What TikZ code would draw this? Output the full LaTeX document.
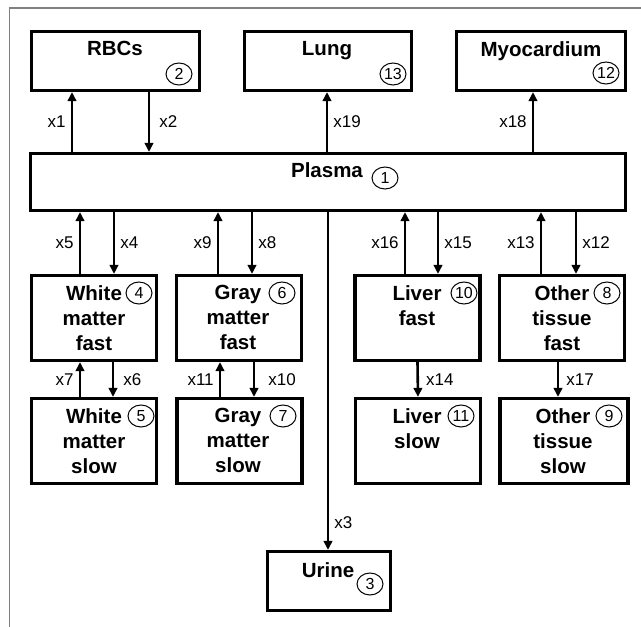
\documentclass[tikz,border=0pt]{standalone}
\usepackage{fontspec}
\setmainfont{Liberation Sans}
\usetikzlibrary{arrows.meta,shapes.geometric}
\begin{document}
\begin{tikzpicture}[x=1pt, y=-1pt,
  box/.style={draw, line width=3.2pt, inner sep=0pt, minimum width=125pt, minimum height=85pt},
  boxtxt/.style={font=\fontsize{20.5}{25}\selectfont\bfseries, align=center, anchor=north, inner sep=0pt},
  num/.style={draw, ellipse, line width=1pt, inner sep=0pt, minimum width=26pt, minimum height=22pt, font=\fontsize{16}{16}\selectfont},
  flow/.style={line width=2.6pt, -{Triangle[length=9pt, width=8.5pt]}},
  ratelbl/.style={font=\fontsize{17}{17}\selectfont, inner sep=5pt}
]
\useasboundingbox (0,0) rectangle (641,627);
% Rahmen
\draw[gray, line width=1.2pt] (9.5,627) -- (9.5,8) -- (641,8);

% Kompartimente
\node[box, minimum width=168pt, minimum height=59pt] (rbc) at (115.5,61) {};
\node[box, minimum width=167pt, minimum height=59pt] (lung) at (328,61) {};
\node[box, minimum width=169pt, minimum height=59pt] (myo) at (541,61) {};
\node[box, minimum width=595pt, minimum height=57pt] (plasma) at (328,182) {};
\node[box] (wmf) at (94,318) {};
\node[box] (gmf) at (239,318) {};
\node[box] (lvf) at (417.5,318) {};
\node[box] (otf) at (562,318) {};
\node[box] (wms) at (94,441) {};
\node[box] (gms) at (239.5,441) {};
\node[box] (lvs) at (418,441) {};
\node[box, minimum width=128pt] (ots) at (564,441) {};
\node[box, minimum width=123pt, minimum height=59pt] (urine) at (329,581) {};

% Beschriftungen
\node[boxtxt] (rbc-t) at (115,41) {RBCs};
\node[boxtxt] (lung-t) at (327,41) {Lung};
\node[boxtxt] (myo-t) at (541,41) {Myocardium};
\node[boxtxt] (plasma-t) at (327,162) {Plasma};
\node[boxtxt] (wmf-t) at (94,285) {White\\matter\\fast};
\node[boxtxt] (gmf-t) at (238,285) {Gray\\matter\\fast};
\node[boxtxt] (lvf-t) at (417,285) {Liver\\fast};
\node[boxtxt] (otf-t) at (562,285) {Other\\tissue\\fast};
\node[boxtxt] (wms-t) at (94,408) {White\\matter\\slow};
\node[boxtxt] (gms-t) at (238,408) {Gray\\matter\\slow};
\node[boxtxt] (lvs-t) at (417,408) {Liver\\slow};
\node[boxtxt] (ots-t) at (563,408) {Other\\tissue\\slow};
\node[boxtxt] (urine-t) at (328,562) {Urine};

% Nummern
\node[num] (n1) at (385,178) {1};
\node[num] (n2) at (179,74) {2};
\node[num] (n3) at (370,584) {3};
\node[num] (n4) at (139,293) {4};
\node[num] (n5) at (141,416) {5};
\node[num] (n6) at (282,293) {6};
\node[num] (n7) at (283,416) {7};
\node[num] (n8) at (607,293) {8};
\node[num] (n9) at (609,416) {9};
\node[num] (n10) at (464,293) {10};
\node[num] (n11) at (461,416) {11};
\node[num] (n12) at (606,73) {12};
\node[num] (n13) at (393,74) {13};

% Fluesse oben
\draw[flow] (plasma.north -| 72,0) -- (rbc.south -| 72,0) node[ratelbl, midway, left] {x1};
\draw[flow] (rbc.south -| 149,0) -- (plasma.north -| 149,0) node[ratelbl, midway, right, xshift=4pt] {x2};
\draw[flow] (plasma.north -| 327,0) -- (lung.south -| 327,0) node[ratelbl, midway, right] {x19};
\draw[flow] (plasma.north -| 533,0) -- (myo.south -| 533,0) node[ratelbl, midway, left] {x18};

% Fluesse unten
\draw[flow] (wmf.north -| 80,0) -- (plasma.south -| 80,0) node[ratelbl, midway, left] {x5};
\draw[flow] (plasma.south -| 114,0) -- (wmf.north -| 114,0) node[ratelbl, midway, right] {x4};
\draw[flow] (gmf.north -| 218,0) -- (plasma.south -| 218,0) node[ratelbl, midway, left] {x9};
\draw[flow] (plasma.south -| 252,0) -- (gmf.north -| 252,0) node[ratelbl, midway, right] {x8};
\draw[flow] (lvf.north -| 405,0) -- (plasma.south -| 405,0) node[ratelbl, midway, left] {x16};
\draw[flow] (plasma.south -| 438,0) -- (lvf.north -| 438,0) node[ratelbl, midway, right] {x15};
\draw[flow] (otf.north -| 541,0) -- (plasma.south -| 541,0) node[ratelbl, midway, left] {x13};
\draw[flow] (plasma.south -| 576,0) -- (otf.north -| 576,0) node[ratelbl, midway, right] {x12};
\draw[flow] (plasma.south -| 328,0) -- (urine.north -| 328,0) node[ratelbl, pos=0.92, right] {x3};

% schnell <-> langsam
\draw[flow] (wms.north -| 80,0) -- (wmf.south -| 80,0) node[ratelbl, midway, left] {x7};
\draw[flow] (wmf.south -| 113,0) -- (wms.north -| 113,0) node[ratelbl, midway, right, xshift=4pt] {x6};
\draw[flow] (gms.north -| 220,0) -- (gmf.south -| 220,0) node[ratelbl, midway, left] {x11};
\draw[flow] (gmf.south -| 254,0) -- (gms.north -| 254,0) node[ratelbl, midway, right, xshift=8pt] {x10};
\draw[flow] (lvf.south) -- (lvs.north) node[ratelbl, midway, right, xshift=2pt] {x14};
\draw[flow] (otf.south -| 558,0) -- (ots.north -| 558,0) node[ratelbl, midway, right, xshift=2pt] {x17};
\end{tikzpicture}
\end{document}
